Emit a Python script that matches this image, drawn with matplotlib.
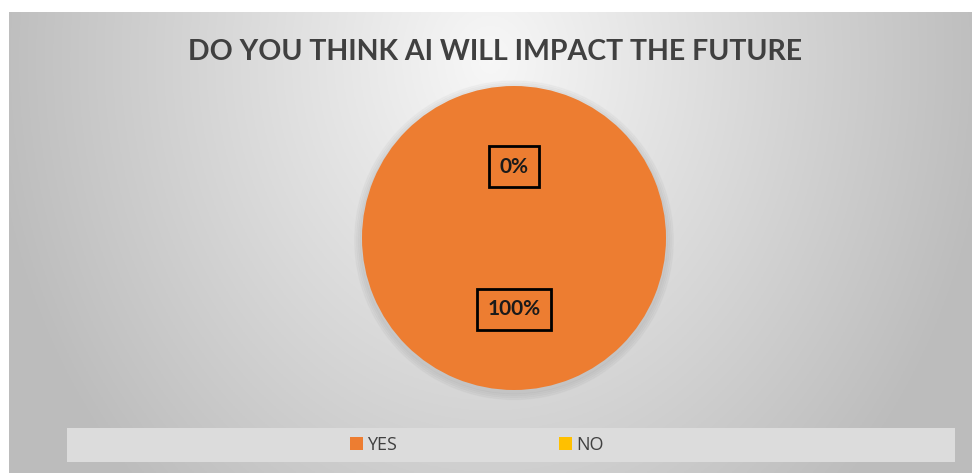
import numpy as np
import matplotlib.pyplot as plt
from matplotlib.patches import Rectangle, Patch

# dados do grafico
respostas = ["YES", "NO"]
valores = [100, 0]
cores = ["#ED7D31", "#FFC000"]
titulo = "DO YOU THINK AI WILL IMPACT THE FUTURE"

W, H = 972, 473
fig = plt.figure(figsize=(W / 100, H / 100), dpi=100, facecolor="white")

# fundo com gradiente radial (area do grafico)
bg = fig.add_axes([9 / W, 0, 963 / W, 461 / H])
xx, yy = np.meshgrid(np.linspace(9, 972, 400), np.linspace(12, 473, 200))
d = np.sqrt(((xx - 490) / 500) ** 2 + ((yy - 60) / 600) ** 2)
g = np.clip(0.97 - 0.23 * d, 0.74, 0.97)
bg.imshow(np.dstack([g, g, g]), aspect="auto", extent=[0, 1, 0, 1])
bg.set_axis_off()

# barra da legenda
bg.add_patch(Rectangle(((67 - 9) / 963, (473 - 462) / 461), (955 - 67) / 963, 34 / 461,
                       transform=bg.transAxes, facecolor="#dcdcdc", edgecolor="none"))

fig.text(495 / W, 1 - 52 / H, titulo, ha="center", va="center", fontsize=20.5,
         fontweight="bold", family="Lato", color="#404040")

# pizza
ax = fig.add_axes([0, 0, 1, 1])
for k in range(4):
    ax.add_patch(plt.Circle((0, -0.015), 1 + 0.012 * (k + 1), color="black",
                            alpha=0.018, zorder=0))
wedges, _, autotexts = ax.pie(valores, colors=cores, startangle=90, counterclock=False,
                              autopct="%d%%", pctdistance=0.47,
                              wedgeprops=dict(linewidth=0))
for t in autotexts:
    t.set_fontsize(15)
    t.set_fontweight("bold")
    t.set_family("Lato")
    t.set_color("#1a1a1a")
    t.set_bbox(dict(boxstyle="square,pad=0.5", facecolor="#ED7D31",
                    edgecolor="black", linewidth=2))
ax.set_xlim(-1.1, 1.1)
ax.set_ylim(-1.1, 1.1)
ax.set_position([(514 - 152 * 1.1) / W, (H - 238 - 152 * 1.1) / H, 304 * 1.1 / W, 304 * 1.1 / H])

handles = [Patch(facecolor=c, edgecolor="none") for c in cores]
fig.legend(handles, respostas, loc="center", bbox_to_anchor=(477 / W, 1 - 445 / H),
           ncol=2, frameon=False, columnspacing=9.0, handlelength=0.7,
           handleheight=0.7, handletextpad=0.25, prop=dict(family="Open Sans", size=13),
           labelcolor="#404040")

fig.savefig("out.png", dpi=100, facecolor="white")
